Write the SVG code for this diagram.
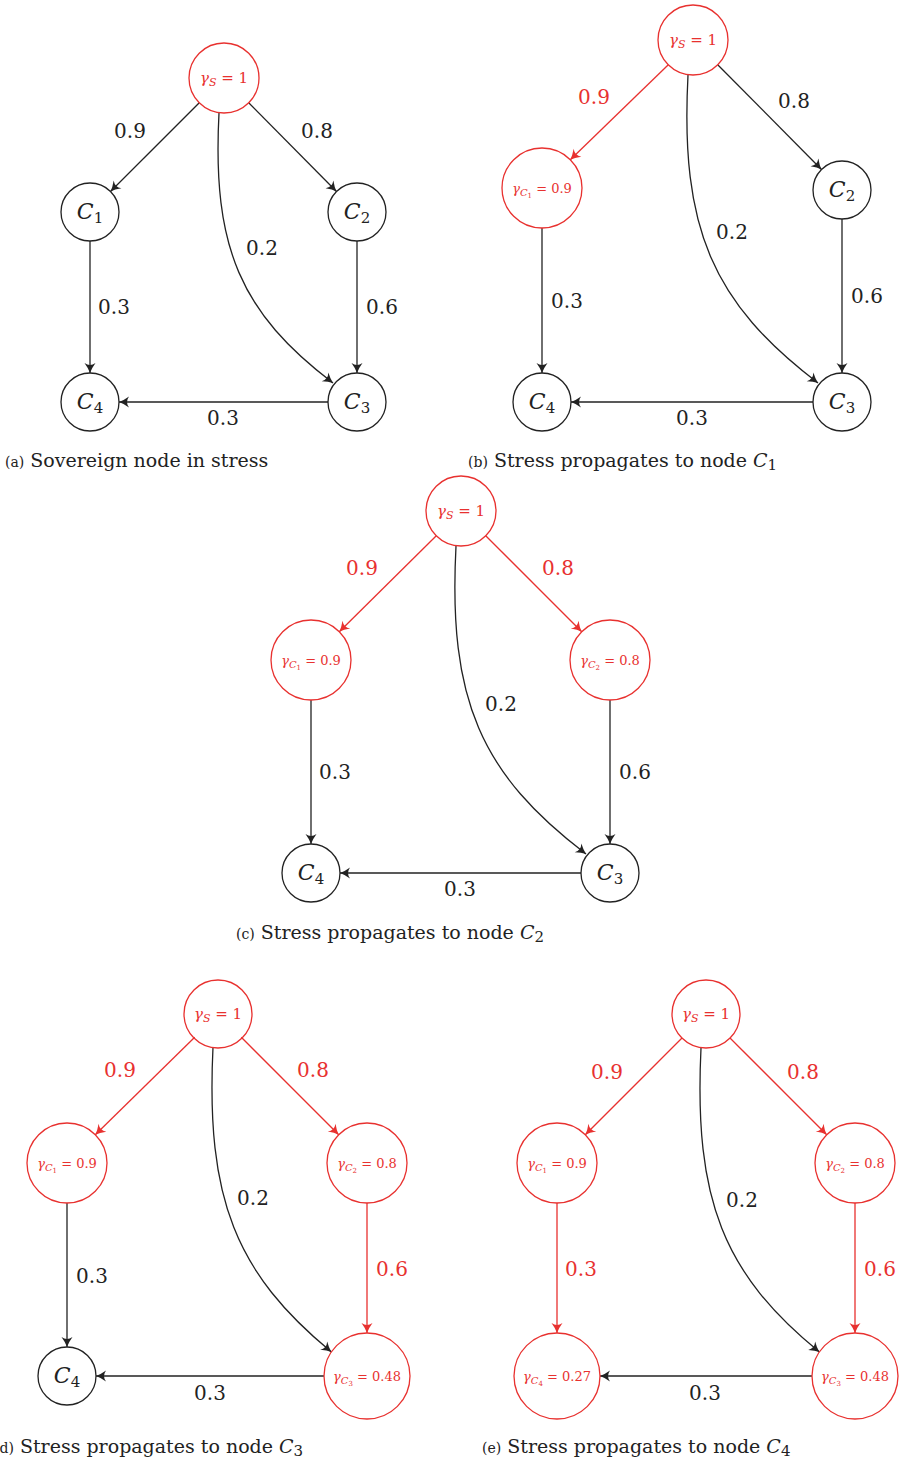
<svg xmlns="http://www.w3.org/2000/svg" width="902" height="1461" viewBox="0 0 902 1461">
<style>
.n{fill:none;stroke:#222;stroke-width:1.3}
.r{fill:none;stroke:#e8312f;stroke-width:1.3}
.e{fill:none;stroke:#222;stroke-width:1.3;marker-end:url(#ab)}
.er{fill:none;stroke:#e8312f;stroke-width:1.3;marker-end:url(#ar)}
text{font-family:"DejaVu Serif","Liberation Serif",serif;fill:#222}
.lb{font-size:20px;text-anchor:middle}
.red{fill:#e8312f}
.nl{font-size:22px;font-style:italic;text-anchor:middle}
.g{font-size:15px;text-anchor:middle;fill:#e8312f}
.gs{font-size:13px;text-anchor:middle;fill:#e8312f}
.cap{font-size:19px}
.sm{font-size:14px}
</style>
<defs>
<marker id="ab" viewBox="-11 -6 13 12" refX="0" refY="0" markerWidth="13" markerHeight="12" markerUnits="userSpaceOnUse" orient="auto"><path d="M0,0 Q-4.5,-1.5 -10,-5.5 Q-6,0 -10,5.5 Q-4.5,1.5 0,0Z" fill="#222"/></marker>
<marker id="ar" viewBox="-11 -6 13 12" refX="0" refY="0" markerWidth="13" markerHeight="12" markerUnits="userSpaceOnUse" orient="auto"><path d="M0,0 Q-4.5,-1.5 -10,-5.5 Q-6,0 -10,5.5 Q-4.5,1.5 0,0Z" fill="#e8312f"/></marker>
</defs>

<!-- Panel a -->
<g id="connectors-a">
<line class="e" x1="199.3" y1="102.7" x2="110.5" y2="191.5"/>
<line class="e" x1="248.7" y1="102.7" x2="336.5" y2="191.5"/>
<path class="e" d="M219,113 C212,248 241,313 333,383"/>
<line class="e" x1="90" y1="241" x2="90" y2="373"/>
<line class="e" x1="357" y1="241" x2="357" y2="373"/>
<line class="e" x1="328" y1="402" x2="119" y2="402"/>
<text class="lb" x="130" y="138">0.9</text>
<text class="lb" x="317" y="138">0.8</text>
<text class="lb" x="262" y="255">0.2</text>
<text class="lb" x="114" y="314">0.3</text>
<text class="lb" x="382" y="314">0.6</text>
<text class="lb" x="223" y="425">0.3</text>
</g>
<g id="a-S"><circle class="r" cx="224" cy="78" r="35"/><text class="g" x="224" y="83"><tspan font-style="italic">γ</tspan><tspan font-style="italic" font-size="11" dy="3">S</tspan><tspan dy="-3"> = 1</tspan></text></g>
<g id="a-C1"><circle class="n" cx="90" cy="212" r="29"/><text class="nl" x="90" y="219">C<tspan font-style="normal" font-size="15" dy="4">1</tspan></text></g>
<g id="a-C2"><circle class="n" cx="357" cy="212" r="29"/><text class="nl" x="357" y="219">C<tspan font-style="normal" font-size="15" dy="4">2</tspan></text></g>
<g id="a-C4"><circle class="n" cx="90" cy="402" r="29"/><text class="nl" x="90" y="409">C<tspan font-style="normal" font-size="15" dy="4">4</tspan></text></g>
<g id="a-C3"><circle class="n" cx="357" cy="402" r="29"/><text class="nl" x="357" y="409">C<tspan font-style="normal" font-size="15" dy="4">3</tspan></text></g>
<text class="cap" x="5" y="467"><tspan class="sm">(a)</tspan> Sovereign node in stress</text>

<!-- Panel b -->
<g id="connectors-b">
<line class="er" x1="668.3" y1="64.7" x2="570.3" y2="159.7"/>
<line class="e" x1="717.7" y1="64.7" x2="821.5" y2="169.5"/>
<path class="e" d="M688,75 C680,229 713,303 818,383"/>
<line class="e" x1="542" y1="228" x2="542" y2="373"/>
<line class="e" x1="842" y1="219" x2="842" y2="373"/>
<line class="e" x1="813" y1="402" x2="571" y2="402"/>
<text class="lb red" x="594" y="104">0.9</text>
<text class="lb" x="794" y="108">0.8</text>
<text class="lb" x="732" y="239">0.2</text>
<text class="lb" x="567" y="308">0.3</text>
<text class="lb" x="867" y="303">0.6</text>
<text class="lb" x="692" y="425">0.3</text>
</g>
<g id="b-S"><circle class="r" cx="693" cy="40" r="35"/><text class="g" x="693" y="45"><tspan font-style="italic">γ</tspan><tspan font-style="italic" font-size="11" dy="3">S</tspan><tspan dy="-3"> = 1</tspan></text></g>
<g id="b-C1"><circle class="r" cx="542" cy="188" r="40"/><text class="gs" x="542" y="193"><tspan font-style="italic">γ</tspan><tspan font-style="italic" font-size="10" dy="3">C</tspan><tspan font-size="7" dy="2">1</tspan><tspan dy="-5"> = 0.9</tspan></text></g>
<g id="b-C2"><circle class="n" cx="842" cy="190" r="29"/><text class="nl" x="842" y="197">C<tspan font-style="normal" font-size="15" dy="4">2</tspan></text></g>
<g id="b-C4"><circle class="n" cx="542" cy="402" r="29"/><text class="nl" x="542" y="409">C<tspan font-style="normal" font-size="15" dy="4">4</tspan></text></g>
<g id="b-C3"><circle class="n" cx="842" cy="402" r="29"/><text class="nl" x="842" y="409">C<tspan font-style="normal" font-size="15" dy="4">3</tspan></text></g>
<text class="cap" x="468" y="467"><tspan class="sm">(b)</tspan> Stress propagates to node <tspan font-style="italic">C</tspan><tspan font-size="15" dy="3">1</tspan></text>

<!-- Panel c -->
<g id="connectors-c">
<line class="er" x1="436.3" y1="535.7" x2="339.3" y2="631.7"/>
<line class="er" x1="485.7" y1="535.7" x2="581.7" y2="631.7"/>
<path class="e" d="M456,546 C448,700 481,774 586,854"/>
<line class="e" x1="311" y1="700" x2="311" y2="844"/>
<line class="e" x1="610" y1="700" x2="610" y2="844"/>
<line class="e" x1="581" y1="873" x2="340" y2="873"/>
<text class="lb red" x="362" y="575">0.9</text>
<text class="lb red" x="558" y="575">0.8</text>
<text class="lb" x="501" y="711">0.2</text>
<text class="lb" x="335" y="779">0.3</text>
<text class="lb" x="635" y="779">0.6</text>
<text class="lb" x="460" y="896">0.3</text>
</g>
<g id="c-S"><circle class="r" cx="461" cy="511" r="35"/><text class="g" x="461" y="516"><tspan font-style="italic">γ</tspan><tspan font-style="italic" font-size="11" dy="3">S</tspan><tspan dy="-3"> = 1</tspan></text></g>
<g id="c-C1"><circle class="r" cx="311" cy="660" r="40"/><text class="gs" x="311" y="665"><tspan font-style="italic">γ</tspan><tspan font-style="italic" font-size="10" dy="3">C</tspan><tspan font-size="7" dy="2">1</tspan><tspan dy="-5"> = 0.9</tspan></text></g>
<g id="c-C2"><circle class="r" cx="610" cy="660" r="40"/><text class="gs" x="610" y="665"><tspan font-style="italic">γ</tspan><tspan font-style="italic" font-size="10" dy="3">C</tspan><tspan font-size="7" dy="2">2</tspan><tspan dy="-5"> = 0.8</tspan></text></g>
<g id="c-C4"><circle class="n" cx="311" cy="873" r="29"/><text class="nl" x="311" y="880">C<tspan font-style="normal" font-size="15" dy="4">4</tspan></text></g>
<g id="c-C3"><circle class="n" cx="610" cy="873" r="29"/><text class="nl" x="610" y="880">C<tspan font-style="normal" font-size="15" dy="4">3</tspan></text></g>
<text class="cap" x="236" y="939"><tspan class="sm">(c)</tspan> Stress propagates to node <tspan font-style="italic">C</tspan><tspan font-size="15" dy="3">2</tspan></text>

<!-- Panel d -->
<g id="connectors-d">
<line class="er" x1="194.7" y1="1037.3" x2="95.3" y2="1134.7"/>
<line class="er" x1="241.3" y1="1037.3" x2="338.7" y2="1134.7"/>
<path class="e" d="M213,1047 C205.7,1199.6 236,1273 331.4,1352"/>
<line class="e" x1="67" y1="1203" x2="67" y2="1347"/>
<line class="er" x1="367" y1="1203" x2="367" y2="1333"/>
<line class="e" x1="324" y1="1376" x2="96" y2="1376"/>
<text class="lb red" x="120" y="1077">0.9</text>
<text class="lb red" x="313" y="1077">0.8</text>
<text class="lb" x="253" y="1205">0.2</text>
<text class="lb" x="92" y="1283">0.3</text>
<text class="lb red" x="392" y="1276">0.6</text>
<text class="lb" x="210" y="1400">0.3</text>
</g>
<g id="d-S"><circle class="r" cx="218" cy="1014" r="34"/><text class="g" x="218" y="1019"><tspan font-style="italic">γ</tspan><tspan font-style="italic" font-size="11" dy="3">S</tspan><tspan dy="-3"> = 1</tspan></text></g>
<g id="d-C1"><circle class="r" cx="67" cy="1163" r="40"/><text class="gs" x="67" y="1168"><tspan font-style="italic">γ</tspan><tspan font-style="italic" font-size="10" dy="3">C</tspan><tspan font-size="7" dy="2">1</tspan><tspan dy="-5"> = 0.9</tspan></text></g>
<g id="d-C2"><circle class="r" cx="367" cy="1163" r="40"/><text class="gs" x="367" y="1168"><tspan font-style="italic">γ</tspan><tspan font-style="italic" font-size="10" dy="3">C</tspan><tspan font-size="7" dy="2">2</tspan><tspan dy="-5"> = 0.8</tspan></text></g>
<g id="d-C4"><circle class="n" cx="67" cy="1376" r="29"/><text class="nl" x="67" y="1383">C<tspan font-style="normal" font-size="15" dy="4">4</tspan></text></g>
<g id="d-C3"><circle class="r" cx="367" cy="1376" r="43"/><text class="gs" x="367" y="1381"><tspan font-style="italic">γ</tspan><tspan font-style="italic" font-size="10" dy="3">C</tspan><tspan font-size="7" dy="2">3</tspan><tspan dy="-5"> = 0.48</tspan></text></g>
<text class="cap" x="-6" y="1453"><tspan class="sm">(d)</tspan> Stress propagates to node <tspan font-style="italic">C</tspan><tspan font-size="15" dy="3">3</tspan></text>

<!-- Panel e -->
<g id="connectors-e">
<line class="er" x1="682" y1="1038" x2="585.3" y2="1134.7"/>
<line class="er" x1="730" y1="1038" x2="826.7" y2="1134.7"/>
<path class="e" d="M701,1048 C693.7,1200.6 724,1274 819.4,1352"/>
<line class="er" x1="557" y1="1203" x2="557" y2="1333"/>
<line class="er" x1="855" y1="1203" x2="855" y2="1333"/>
<line class="e" x1="812" y1="1376" x2="600" y2="1376"/>
<text class="lb red" x="607" y="1079">0.9</text>
<text class="lb red" x="803" y="1079">0.8</text>
<text class="lb" x="742" y="1207">0.2</text>
<text class="lb red" x="581" y="1276">0.3</text>
<text class="lb red" x="880" y="1276">0.6</text>
<text class="lb" x="705" y="1400">0.3</text>
</g>
<g id="e-S"><circle class="r" cx="706" cy="1014" r="34"/><text class="g" x="706" y="1019"><tspan font-style="italic">γ</tspan><tspan font-style="italic" font-size="11" dy="3">S</tspan><tspan dy="-3"> = 1</tspan></text></g>
<g id="e-C1"><circle class="r" cx="557" cy="1163" r="40"/><text class="gs" x="557" y="1168"><tspan font-style="italic">γ</tspan><tspan font-style="italic" font-size="10" dy="3">C</tspan><tspan font-size="7" dy="2">1</tspan><tspan dy="-5"> = 0.9</tspan></text></g>
<g id="e-C2"><circle class="r" cx="855" cy="1163" r="40"/><text class="gs" x="855" y="1168"><tspan font-style="italic">γ</tspan><tspan font-style="italic" font-size="10" dy="3">C</tspan><tspan font-size="7" dy="2">2</tspan><tspan dy="-5"> = 0.8</tspan></text></g>
<g id="e-C4"><circle class="r" cx="557" cy="1376" r="43"/><text class="gs" x="557" y="1381"><tspan font-style="italic">γ</tspan><tspan font-style="italic" font-size="10" dy="3">C</tspan><tspan font-size="7" dy="2">4</tspan><tspan dy="-5"> = 0.27</tspan></text></g>
<g id="e-C3"><circle class="r" cx="855" cy="1376" r="43"/><text class="gs" x="855" y="1381"><tspan font-style="italic">γ</tspan><tspan font-style="italic" font-size="10" dy="3">C</tspan><tspan font-size="7" dy="2">3</tspan><tspan dy="-5"> = 0.48</tspan></text></g>
<text class="cap" x="482" y="1453"><tspan class="sm">(e)</tspan> Stress propagates to node <tspan font-style="italic">C</tspan><tspan font-size="15" dy="3">4</tspan></text>
</svg>
